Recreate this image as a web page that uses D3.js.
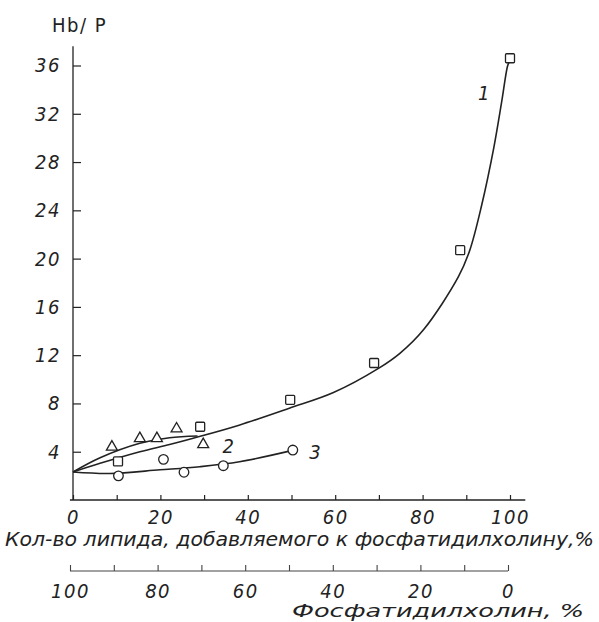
<!DOCTYPE html>
<html>
<head>
<meta charset="utf-8">
<script src="https://cdn.jsdelivr.net/npm/d3@7.9.0/dist/d3.min.js"></script>
<style>
  body { margin: 0; background: #fff; }
  svg { display: block; }
  .lbl { font-family: "DejaVu Sans Condensed", "Liberation Sans Narrow", "DejaVu Sans", sans-serif; font-style: italic; fill: #222; }
</style>
</head>
<body>
<div id="chart"></div>
<script>
/* ===== DATA ===== */
const xTicks = [0, 10, 20, 30, 40, 50, 60, 70, 80, 90, 100];
const xLabels = [0, 20, 40, 60, 80, 100];
const yTicks = [4, 8, 12, 16, 20, 24, 28, 32, 36];
const pcTicks = [100, 90, 80, 70, 60, 50, 40, 30, 20, 10, 0];
const pcLabels = [100, 80, 60, 40, 20, 0];

// series 1 - squares
const squares = [[10.3, 3.2], [29.1, 6.07], [49.7, 8.3], [68.9, 11.35], [88.6, 20.7], [100, 36.6]];
// series 2 - triangles
const triangles = [[8.9, 4.4], [15.3, 5.1], [19.2, 5.1], [23.7, 5.9], [29.8, 4.6]];
// series 3 - circles
const circles = [[10.4, 2.0], [20.7, 3.37], [25.4, 2.3], [34.4, 2.84], [50.3, 4.14]];

// fitted curves as drawn
const curve1 = [[0, 2.32], [6.2, 3.04], [15.3, 4.0], [22.1, 4.6], [27.5, 5.12], [38, 6.2], [49.5, 7.6],
  [59.6, 8.9], [69.9, 10.9], [74.8, 12.15], [80.2, 14.1], [88.2, 18.5], [90.8, 20.7], [93.5, 24.4],
  [96.3, 29.2], [98.1, 33.0], [99.4, 35.9], [99.8, 36.3]];
const curve2 = [[0, 2.32], [6.2, 3.5], [15.3, 4.7], [22.1, 5.16], [28.5, 5.3]];
const curve3 = [[0, 2.32], [8.4, 2.2], [19.9, 2.5], [29, 2.76], [38.1, 3.17], [49.5, 4.05]];

// curve numbers
const curveLabels = [["1", 94, 33.7], ["2", 35.5, 4.5], ["3", 55.4, 4.0]];

const yTitle = "Hb/ P";
const xTitle = "Кол-во липида, добавляемого к фосфатидилхолину,%";
const pcTitle = "Фосфатидилхолин, %";

/* ===== SVG ===== */
const width = 599, height = 622;
const ink = '#222';

const svg = d3.select('#chart').append('svg')
  .attr('width', width)
  .attr('height', height);

/* ===== SCALES ===== */
const x = d3.scaleLinear().domain([0, 100]).range([73, 510]);
const y = d3.scaleLinear().domain([0, 36]).range([500, 65.5]);
const xPc = d3.scaleLinear().domain([100, 0]).range([70, 508]);
const axisY2 = 571;

/* ===== AXES ===== */
// y axis
const gy = svg.append('g').attr('transform', `translate(${x(0)},0)`);
gy.call(d3.axisLeft(y).tickValues(yTicks).tickSize(-8).tickPadding(12));
gy.select('.domain').remove();
gy.append('line')
  .attr('y1', y(0)).attr('y2', y(37.6))
  .attr('stroke', ink).attr('stroke-width', 1.3);
gy.selectAll('.tick line').attr('stroke', ink).attr('stroke-width', 1.2);
gy.selectAll('.tick text').attr('class', 'lbl')
  .attr('font-size', 20).attr('letter-spacing', 1.5);

// x axis (lipid amount)
const gx = svg.append('g').attr('transform', `translate(0,${y(0)})`);
gx.call(d3.axisBottom(x).tickValues(xTicks).tickSize(-5).tickPadding(9)
  .tickFormat(d => xLabels.includes(d) ? d : ''));
gx.select('.domain').remove();
gx.append('line')
  .attr('x1', x(-0.7)).attr('x2', x(103.5))
  .attr('stroke', ink).attr('stroke-width', 1.3);
gx.selectAll('.tick line').attr('stroke', ink).attr('stroke-width', 1.2);
gx.selectAll('.tick text').attr('class', 'lbl')
  .attr('font-size', 20).attr('letter-spacing', 1.5).attr('dy', '0.75em');

svg.append('text').attr('class', 'lbl')
  .attr('x', 5).attr('y', 546)
  .attr('font-size', 19)
  .attr('textLength', 589).attr('lengthAdjust', 'spacingAndGlyphs')
  .text(xTitle);

// second axis (phosphatidylcholine %)
const gp = svg.append('g').attr('transform', `translate(0,${axisY2})`);
gp.call(d3.axisBottom(xPc).tickValues(pcTicks).tickSize(-6).tickPadding(12)
  .tickFormat(d => pcLabels.includes(d) ? d : ''));
gp.select('.domain').remove();
gp.append('line')
  .attr('x1', xPc(100)).attr('x2', xPc(0))
  .attr('stroke', '#444').attr('stroke-width', 1.1);
gp.selectAll('.tick line').attr('stroke', '#444').attr('stroke-width', 1.1);
gp.selectAll('.tick text').attr('class', 'lbl')
  .attr('font-size', 20).attr('letter-spacing', 1.5).attr('dy', '0.75em')
  .attr('fill', '#333');

svg.append('text').attr('class', 'lbl')
  .attr('x', 292).attr('y', 617)
  .attr('font-size', 17)
  .attr('textLength', 292).attr('lengthAdjust', 'spacingAndGlyphs')
  .attr('fill', '#444')
  .text(pcTitle);

// y title
svg.append('text')
  .attr('x', 52).attr('y', 32)
  .attr('font-family', '"DejaVu Sans Condensed", "DejaVu Sans", sans-serif')
  .attr('font-size', 20).attr('letter-spacing', 1.5)
  .attr('fill', ink)
  .text(yTitle);

/* ===== CURVES ===== */
const line = d3.line()
  .x(d => x(d[0]))
  .y(d => y(d[1]))
  .curve(d3.curveCatmullRom.alpha(0.5));

svg.append('g').selectAll('path')
  .data([curve1, curve2, curve3])
  .join('path')
  .attr('d', line)
  .attr('fill', 'none')
  .attr('stroke', ink)
  .attr('stroke-width', 1.6);

/* ===== MARKERS ===== */
const mk = svg.append('g')
  .attr('fill', '#fff')
  .attr('stroke', ink)
  .attr('stroke-width', 1.3);

mk.selectAll('rect')
  .data(squares)
  .join('rect')
  .attr('x', d => x(d[0]) - 4.5)
  .attr('y', d => y(d[1]) - 4.5)
  .attr('width', 9).attr('height', 9)
  .attr('rx', 1);

const tri = d3.symbol().type(d3.symbolTriangle).size(52);
mk.selectAll('path.tri')
  .data(triangles)
  .join('path')
  .attr('class', 'tri')
  .attr('d', tri)
  .attr('transform', d => `translate(${x(d[0])},${y(d[1])})`);

mk.selectAll('circle')
  .data(circles)
  .join('circle')
  .attr('cx', d => x(d[0]))
  .attr('cy', d => y(d[1]))
  .attr('r', 4.8);

/* ===== CURVE NUMBERS ===== */
svg.append('g').selectAll('text')
  .data(curveLabels)
  .join('text')
  .attr('class', 'lbl')
  .attr('x', d => x(d[1]))
  .attr('y', d => y(d[2]))
  .attr('dy', '0.35em')
  .attr('text-anchor', 'middle')
  .attr('font-size', 20)
  .text(d => d[0]);
</script>
</body>
</html>
